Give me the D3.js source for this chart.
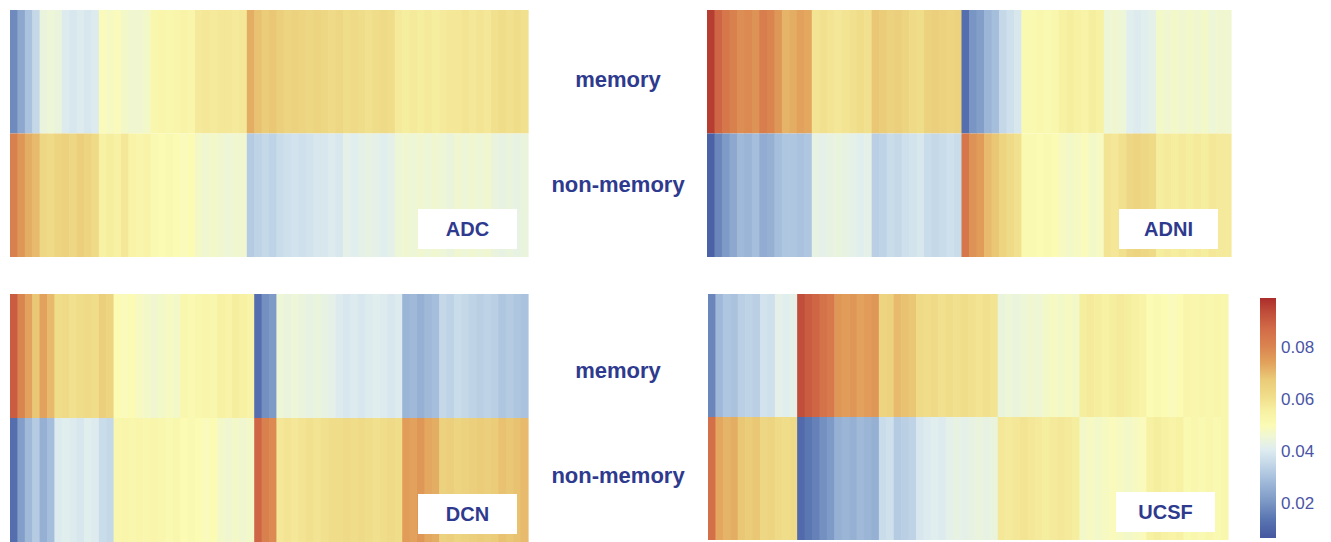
<!DOCTYPE html>
<html>
<head>
<meta charset="utf-8">
<script src="https://cdn.jsdelivr.net/npm/d3@7"></script>
<style>
  body { margin: 0; background: #fff; }
  svg { display: block; }
</style>
</head>
<body>
<div id="chart"></div>
<script>
const WIDTH = 1331
const HEIGHT = 542

const ROWS = ["memory", "non-memory"]
const TICKS = [0.02, 0.04, 0.06, 0.08]
const VMIN = 0.0065
const VMAX = 0.0987

const adcMemory = [0.018,0.024,0.030,0.035,0.044,0.045,0.044,0.040,0.039,0.040,0.039,0.040,0.049,0.048,0.049,0.047,0.046,0.046,0.047,0.052,0.053,0.052,0.053,0.054,0.053,0.057,0.058,0.057,0.058,0.058,0.057,0.058,0.072,0.069,0.067,0.068,0.066,0.064,0.065,0.064,0.063,0.064,0.063,0.062,0.063,0.061,0.062,0.061,0.060,0.061,0.062,0.061,0.057,0.056,0.057,0.056,0.057,0.056,0.057,0.058,0.058,0.059,0.058,0.059,0.058,0.060,0.061,0.060,0.061,0.060]
const adcNonMemory = [0.081,0.076,0.072,0.070,0.063,0.062,0.064,0.065,0.063,0.066,0.064,0.062,0.055,0.056,0.055,0.058,0.054,0.053,0.054,0.051,0.050,0.051,0.050,0.049,0.050,0.047,0.046,0.047,0.046,0.045,0.046,0.046,0.032,0.034,0.035,0.034,0.036,0.037,0.038,0.037,0.038,0.039,0.039,0.040,0.039,0.042,0.041,0.042,0.043,0.042,0.041,0.042,0.045,0.046,0.045,0.046,0.045,0.046,0.045,0.044,0.046,0.045,0.046,0.045,0.046,0.044,0.043,0.044,0.043,0.044]

const adniMemory = [0.096,0.088,0.084,0.081,0.078,0.079,0.077,0.082,0.080,0.076,0.071,0.072,0.074,0.073,0.059,0.060,0.059,0.058,0.059,0.060,0.061,0.060,0.068,0.067,0.065,0.066,0.064,0.062,0.061,0.065,0.066,0.065,0.064,0.065,0.012,0.020,0.022,0.027,0.029,0.035,0.037,0.039,0.051,0.051,0.052,0.051,0.052,0.055,0.056,0.055,0.054,0.056,0.055,0.045,0.046,0.045,0.041,0.040,0.041,0.042,0.047,0.046,0.047,0.046,0.047,0.046,0.047,0.045,0.046,0.046]
const adniNonMemory = [0.009,0.017,0.021,0.024,0.028,0.027,0.029,0.025,0.026,0.029,0.031,0.031,0.030,0.031,0.043,0.042,0.043,0.044,0.043,0.042,0.041,0.042,0.033,0.034,0.036,0.035,0.037,0.038,0.039,0.036,0.035,0.036,0.037,0.036,0.084,0.077,0.075,0.070,0.068,0.064,0.062,0.060,0.051,0.051,0.050,0.051,0.050,0.048,0.047,0.048,0.049,0.047,0.048,0.059,0.058,0.060,0.063,0.064,0.063,0.062,0.056,0.057,0.056,0.057,0.056,0.057,0.056,0.058,0.057,0.057]

const dcnMemory = [0.090,0.080,0.074,0.068,0.074,0.070,0.061,0.062,0.060,0.061,0.062,0.061,0.066,0.064,0.050,0.049,0.050,0.048,0.047,0.046,0.047,0.048,0.047,0.052,0.051,0.052,0.053,0.052,0.055,0.054,0.056,0.055,0.054,0.012,0.019,0.021,0.045,0.044,0.045,0.044,0.043,0.044,0.043,0.042,0.040,0.039,0.040,0.039,0.040,0.041,0.040,0.039,0.040,0.027,0.028,0.026,0.028,0.029,0.035,0.034,0.036,0.035,0.034,0.033,0.034,0.033,0.031,0.032,0.031,0.030]
const dcnNonMemory = [0.012,0.022,0.028,0.032,0.026,0.029,0.040,0.041,0.040,0.039,0.041,0.040,0.036,0.035,0.052,0.053,0.052,0.053,0.052,0.053,0.052,0.051,0.052,0.050,0.051,0.050,0.049,0.050,0.047,0.046,0.047,0.046,0.047,0.088,0.081,0.079,0.058,0.059,0.058,0.059,0.060,0.059,0.060,0.061,0.061,0.062,0.061,0.062,0.061,0.060,0.061,0.062,0.061,0.075,0.074,0.076,0.073,0.072,0.065,0.066,0.064,0.065,0.066,0.067,0.066,0.067,0.069,0.068,0.069,0.070]

const ucsfMemory = [0.017,0.028,0.031,0.030,0.033,0.034,0.033,0.038,0.037,0.042,0.041,0.042,0.093,0.090,0.088,0.085,0.083,0.076,0.075,0.076,0.074,0.075,0.076,0.064,0.065,0.070,0.069,0.068,0.062,0.061,0.062,0.060,0.061,0.060,0.061,0.060,0.059,0.060,0.059,0.044,0.045,0.044,0.045,0.046,0.045,0.047,0.048,0.047,0.048,0.047,0.056,0.057,0.056,0.055,0.056,0.057,0.056,0.055,0.054,0.050,0.051,0.050,0.049,0.050,0.053,0.052,0.053,0.052,0.053,0.052]
const ucsfNonMemory = [0.086,0.073,0.071,0.072,0.068,0.067,0.068,0.063,0.064,0.062,0.061,0.062,0.011,0.014,0.016,0.019,0.021,0.026,0.027,0.026,0.028,0.027,0.026,0.036,0.037,0.032,0.033,0.034,0.039,0.040,0.041,0.040,0.042,0.043,0.042,0.043,0.044,0.043,0.044,0.058,0.057,0.058,0.059,0.058,0.057,0.056,0.057,0.058,0.057,0.056,0.047,0.048,0.047,0.048,0.049,0.048,0.047,0.048,0.049,0.055,0.056,0.055,0.054,0.055,0.051,0.052,0.051,0.052,0.051,0.052]

// colour stops, low -> high
const COLORS = ["#4557a0", "#5a76b2", "#7b97c4", "#a3bcdb", "#c9dcea", "#e0edf0", "#eef6d6",
                "#fbfbb5", "#f7f0a2", "#f0dd8a", "#eacb78", "#e2a25c", "#da8350", "#d26c48", "#c04d3a", "#ab2d2b"]
const STOPS = [0, 0.08, 0.15, 0.24, 0.32, 0.37, 0.42, 0.47, 0.53, 0.59, 0.66, 0.73, 0.80, 0.87, 0.94, 1]

const panels = [
    { name: "ADC",  rows: [adcMemory, adcNonMemory],   x: 10,  y: 10,  w: 518, h: 247 },
    { name: "ADNI", rows: [adniMemory, adniNonMemory], x: 707, y: 10,  w: 524, h: 247 },
    { name: "DCN",  rows: [dcnMemory, dcnNonMemory],   x: 10,  y: 294, w: 518, h: 248 },
    { name: "UCSF", rows: [ucsfMemory, ucsfNonMemory], x: 708, y: 294, w: 520, h: 246 }
]

const TEXT = "#2e3a8e"

const color = d3.scaleLinear()
    .domain(STOPS.map(s => VMIN + s * (VMAX - VMIN)))
    .range(COLORS)
    .interpolate(d3.interpolateRgb)
    .clamp(true)

const svg = d3.select("#chart")
    .append("svg")
    .attr("width", WIDTH)
    .attr("height", HEIGHT)
    .attr("font-family", "Liberation Sans, Arial, sans-serif")

panels.forEach(p => {
    const n = p.rows[0].length
    const x = d3.scaleBand().domain(d3.range(n)).range([0, p.w])
    const y = d3.scaleBand().domain(ROWS).range([0, p.h])

    const cells = []
    p.rows.forEach((vals, r) => vals.forEach((v, i) => cells.push({ row: ROWS[r], col: i, value: v })))

    const g = svg.append("g").attr("transform", `translate(${p.x},${p.y})`)

    g.selectAll("rect")
        .data(cells)
        .join("rect")
        .attr("x", d => x(d.col))
        .attr("y", d => y(d.row))
        .attr("width", x.bandwidth() + 0.6)
        .attr("height", y.bandwidth())
        .attr("fill", d => color(d.value))

    // dataset label box, bottom right
    const bw = 99, bh = 40
    const bx = p.w - bw - (p.name === "ADC" || p.name === "DCN" ? 11 : 13)
    const by = p.h - bh - 8
    g.append("rect")
        .attr("x", bx).attr("y", by)
        .attr("width", bw).attr("height", bh)
        .attr("fill", "#fff")
    g.append("text")
        .attr("x", bx + bw / 2)
        .attr("y", by + bh / 2 + 7)
        .attr("text-anchor", "middle")
        .attr("font-size", 20)
        .attr("font-weight", "bold")
        .attr("fill", TEXT)
        .text(p.name)
})

// row labels between the columns of panels
const labelRows = [
    { text: "memory", y: 87 },
    { text: "non-memory", y: 192 },
    { text: "memory", y: 378 },
    { text: "non-memory", y: 483 }
]
svg.append("g")
    .selectAll("text")
    .data(labelRows)
    .join("text")
    .attr("x", 618)
    .attr("y", d => d.y)
    .attr("text-anchor", "middle")
    .attr("font-size", 22)
    .attr("font-weight", "bold")
    .attr("fill", TEXT)
    .text(d => d.text)

// colour bar
const cb = { x: 1260, y: 298, w: 16, h: 240 }
const cbScale = d3.scaleLinear().domain([VMIN, VMAX]).range([cb.y + cb.h, cb.y])

const grad = svg.append("defs").append("linearGradient")
    .attr("id", "cbar")
    .attr("x1", 0).attr("y1", 1).attr("x2", 0).attr("y2", 0)
grad.selectAll("stop")
    .data(STOPS)
    .join("stop")
    .attr("offset", d => d)
    .attr("stop-color", (d, i) => COLORS[i])

svg.append("rect")
    .attr("x", cb.x).attr("y", cb.y)
    .attr("width", cb.w).attr("height", cb.h)
    .attr("fill", "url(#cbar)")

const axis = svg.append("g")
    .attr("transform", `translate(${cb.x + cb.w},0)`)
    .call(d3.axisRight(cbScale).tickValues(TICKS).tickSize(0).tickPadding(5).tickFormat(d3.format(".2f")))
axis.select(".domain").remove()
axis.selectAll("text")
    .attr("font-size", 17)
    .attr("font-family", "Liberation Sans, Arial, sans-serif")
    .attr("fill", "#4a55a6")
</script>
</body>
</html>
